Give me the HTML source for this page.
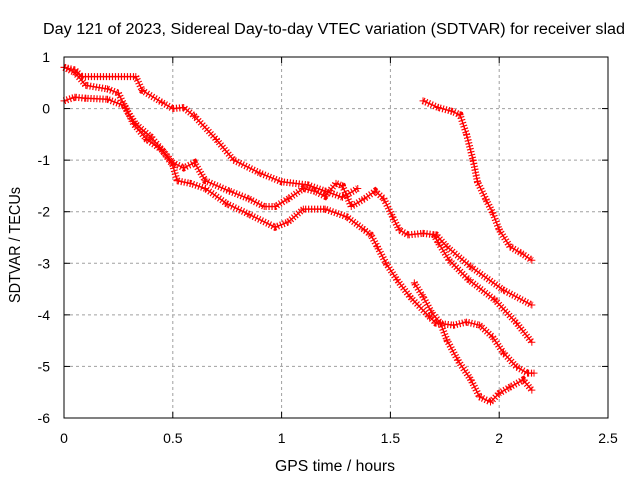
<!DOCTYPE html>
<html><head><meta charset="utf-8"><style>
body{margin:0;background:#fff}
svg{display:block;font-family:"Liberation Sans",sans-serif}
</style></head><body>
<svg id="chart" width="640" height="480" viewBox="0 0 640 480">
<rect width="640" height="480" fill="#fff"/>
<text x="43" y="34" font-size="15.5" textLength="582" lengthAdjust="spacingAndGlyphs">Day 121 of 2023, Sidereal Day-to-day VTEC variation (SDTVAR) for receiver slad</text>
<g id="grid"></g>
<g id="ticks"></g>
<g id="series"></g>
<rect x="64" y="57" width="544" height="361" fill="none" stroke="#000" stroke-width="1"/>
<text x="275" y="471" font-size="15.5" textLength="120" lengthAdjust="spacingAndGlyphs">GPS time / hours</text>
<text transform="translate(20,303) rotate(-90)" font-size="15.5" textLength="116" lengthAdjust="spacingAndGlyphs">SDTVAR / TECUs</text>
</svg>
<script>
const xTicks=[0,0.5,1,1.5,2,2.5];
const xTickLabels=["0","0.5","1","1.5","2","2.5"];
const yTicks=[1,0,-1,-2,-3,-4,-5,-6];
const yTickLabels=["1","0","-1","-2","-3","-4","-5","-6"];
const s1x=[0,0.05,0.08,0.33,0.36,0.45,0.5,0.55,0.6,0.7,0.78,0.9,1.0,1.12,1.2,1.28,1.35];
const s1y=[0.8,0.75,0.62,0.62,0.35,0.12,0.0,0.02,-0.15,-0.6,-1.0,-1.25,-1.42,-1.48,-1.6,-1.72,-1.55];
const s2x=[0,0.05,0.1,0.2,0.25,0.29,0.33,0.4,0.45,0.5,0.52,0.58,0.65,0.75,0.85,0.97,1.03,1.1,1.2,1.3,1.38,1.41,1.44,1.48,1.53,1.59,1.68,1.71,1.79,1.85,1.91,1.97,2.02,2.08,2.13,2.16];
const s2y=[0.8,0.7,0.45,0.38,0.3,-0.05,-0.3,-0.55,-0.8,-1.1,-1.4,-1.45,-1.55,-1.85,-2.05,-2.3,-2.2,-1.95,-1.95,-2.1,-2.35,-2.45,-2.68,-3.0,-3.32,-3.65,-4.04,-4.16,-4.2,-4.14,-4.2,-4.43,-4.74,-5.01,-5.13,-5.13];
const s3x=[0,0.05,0.1,0.2,0.28,0.32,0.38,0.45,0.5,0.55,0.6,0.65,0.76,0.85,0.92,0.97,1.03,1.1,1.15,1.2,1.25,1.28,1.32,1.38,1.43,1.47,1.51,1.54,1.58,1.65,1.71,1.76,1.87,2.02,2.15];
const s3y=[0.15,0.22,0.2,0.18,0.05,-0.3,-0.6,-0.8,-1.05,-1.15,-1.05,-1.4,-1.6,-1.75,-1.9,-1.9,-1.75,-1.55,-1.6,-1.7,-1.45,-1.5,-1.9,-1.75,-1.6,-1.75,-2.1,-2.35,-2.45,-2.42,-2.45,-2.68,-3.07,-3.52,-3.81];
const s4x=[1.7,1.72,1.77,1.86,1.98,2.08,2.15];
const s4y=[-2.45,-2.6,-2.94,-3.32,-3.71,-4.16,-4.53];
const s5x=[1.61,1.65,1.69,1.73,1.76,1.81,1.87,1.91,1.96,2.0,2.05,2.11,2.15];
const s5y=[-3.38,-3.65,-3.96,-4.16,-4.49,-4.88,-5.26,-5.59,-5.69,-5.52,-5.4,-5.26,-5.46];
const s6x=[1.65,1.72,1.78,1.82,1.85,1.88,1.9,1.94,1.97,2.0,2.05,2.1,2.15];
const s6y=[0.15,0.02,-0.05,-0.12,-0.5,-1.0,-1.42,-1.77,-2.02,-2.35,-2.68,-2.8,-2.94];
const NS="http://www.w3.org/2000/svg";
function X(h){return 64+h/2.5*544;}
function Y(v){return 57+(1-v)/7*361;}
function mk(t,a,p){const e=document.createElementNS(NS,t);for(const k in a)e.setAttribute(k,a[k]);p.appendChild(e);return e;}
const grid=document.getElementById('grid'),ticks=document.getElementById('ticks'),ser=document.getElementById('series');
xTicks.forEach((t,i)=>{
  if(t>0&&t<2.5){const g=mk('line',{x1:X(t),x2:X(t),y1:57,y2:418,stroke:'#a0a0a0','stroke-dasharray':'3 3'},grid);
  
  }
  mk('line',{x1:X(t),x2:X(t),y1:418,y2:412,stroke:'#000'},ticks);
  mk('line',{x1:X(t),x2:X(t),y1:57,y2:63,stroke:'#000'},ticks);
  const l=mk('text',{x:X(t),y:443,'font-size':14,'text-anchor':'middle'},ticks);l.textContent=xTickLabels[i];
  
  
});
yTicks.forEach((t,i)=>{
  if(t<1&&t>-6){const g=mk('line',{x1:64,x2:608,y1:Y(t),y2:Y(t),stroke:'#a0a0a0','stroke-dasharray':'3 3'},grid);
  
  }
  mk('line',{x1:64,x2:70,y1:Y(t),y2:Y(t),stroke:'#000'},ticks);
  mk('line',{x1:608,x2:602,y1:Y(t),y2:Y(t),stroke:'#000'},ticks);
  const l=mk('text',{x:50,y:Y(t)+5,'font-size':14,'text-anchor':'end'},ticks);l.textContent=yTickLabels[i];
  
  
});
const all=[[s1x,s1y],[s2x,s2y],[s3x,s3y],[s4x,s4y],[s5x,s5y],[s6x,s6y]];
all.forEach((s,si)=>{
  const pts=s[0].map((h,i)=>X(h)+','+Y(s[1][i])).join(' ');
  const g=mk('g',{},ser);
  
  
  mk('polyline',{points:pts,fill:'none',stroke:'#f00','stroke-width':1.5,'stroke-linejoin':'round'},g);
  mk('polyline',{points:pts,fill:'none',stroke:'#f00','stroke-width':7,'stroke-dasharray':'1.2 1.8'},g);
  s[0].forEach((h,i)=>{
    const cx=X(h),cy=Y(s[1][i]);
    const p=mk('path',{d:`M${cx-3.5},${cy}H${cx+3.5}M${cx},${cy-3.5}V${cy+3.5}`,stroke:'#f00','stroke-width':1},g);
    
    
  });
});
</script>
</body></html>
